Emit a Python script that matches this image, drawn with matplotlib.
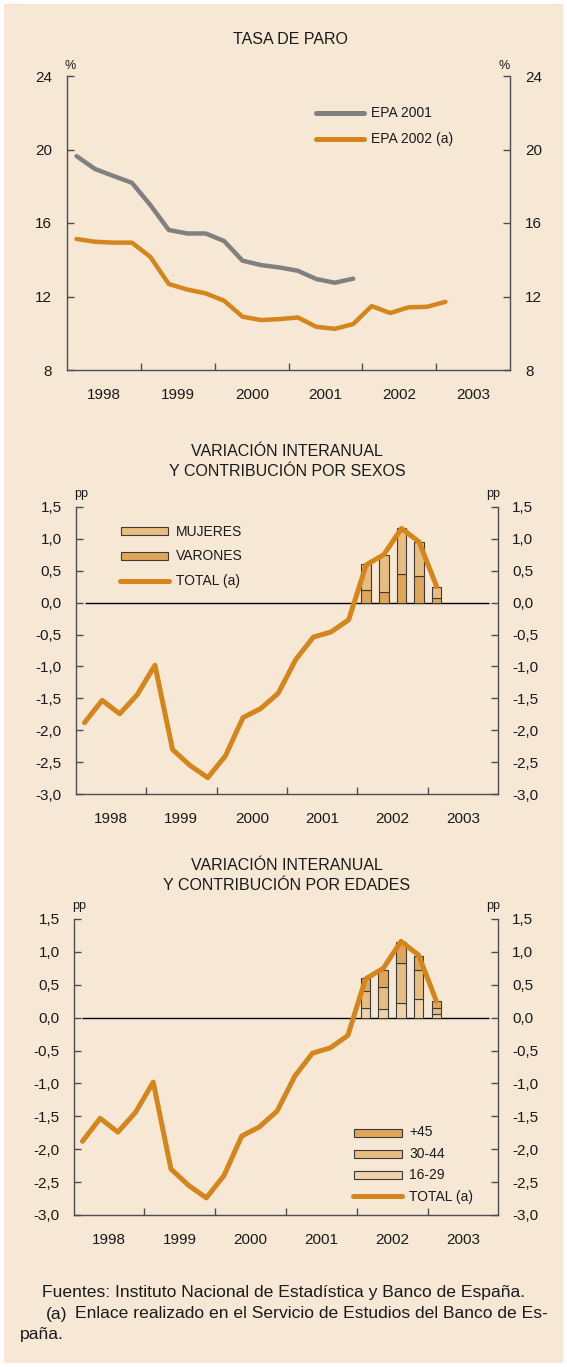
import matplotlib
matplotlib.use('Agg')
import matplotlib.pyplot as plt
from matplotlib.patches import Rectangle
from matplotlib.lines import Line2D
from matplotlib.ticker import FixedLocator, NullFormatter, FuncFormatter

plt.rcParams['font.family'] = ['Liberation Sans', 'DejaVu Sans']

# trimestres 1998T1 .. 2003T1
trimestres = ['%dT%d' % (a, t) for a in range(1998, 2004) for t in range(1, 5)][:21]

# tasa de paro (%)
epa_2001 = [19.64, 18.94, 18.56, 18.19, 16.98, 15.62, 15.43, 15.43,
            15.02, 13.95, 13.71, 13.58, 13.40, 12.95, 12.75, 12.97]
epa_2002 = [15.13, 14.98, 14.93, 14.93, 14.16, 12.68, 12.38, 12.17,
            11.77, 10.90, 10.72, 10.77, 10.86, 10.35, 10.24, 10.50,
            11.48, 11.10, 11.41, 11.44, 11.71]

# variacion interanual (pp)
total = [-1.88, -1.53, -1.74, -1.44, -0.98, -2.30, -2.55, -2.74,
         -2.40, -1.80, -1.66, -1.42, -0.89, -0.54, -0.46, -0.27,
         0.59, 0.75, 1.16, 0.95, 0.25]

# contribuciones 2002T1 .. 2003T1
trim_barras = ['2002T1', '2002T2', '2002T3', '2002T4', '2003T1']
varones = [0.19, 0.17, 0.45, 0.42, 0.07]
mujeres = [0.41, 0.57, 0.71, 0.53, 0.17]
edad_16_29 = [0.15, 0.13, 0.22, 0.28, 0.05]
edad_30_44 = [0.26, 0.34, 0.61, 0.44, 0.09]
edad_45 = [0.19, 0.26, 0.32, 0.22, 0.11]

anos = [1998, 1999, 2000, 2001, 2002, 2003]

FONDO = '#F6E8D5'
NARANJA = '#D4861C'
GRIS = '#808080'
C_MUJ = '#E9BD82'
C_VAR = '#DFA65A'
C_1629 = '#F0D3AB'
C_3044 = '#E9BD82'
C_45 = '#DFA65A'
EJE = '#4d4d4d'
TXT = '#1a1a1a'

W, H = 567, 1367
F_TICK = 11
F_TIT = 11.5
F_LEY = 10
F_NOTA = 12.6


def pos_x(t):
    # centro del trimestre en años
    a, q = t.split('T')
    return int(a) + (int(q) - 0.5) / 4


def caja(l, t, r, b):
    return [l / W, 1 - b / H, (r - l) / W, (b - t) / H]


def fx(x):
    return x / W


def fy(y):
    return 1 - y / H


fig = plt.figure(figsize=(W / 100, H / 100), dpi=100)
fig.patch.set_facecolor('white')
fig.add_artist(Rectangle((fx(4), fy(1363)), (W - 8) / W, 1359 / H,
                         transform=fig.transFigure, facecolor=FONDO,
                         edgecolor='none', zorder=-10))


def preparar(ax, ymin, ymax, yticks, fmt, pad):
    ax.set_facecolor('none')
    ax.set_xlim(1998, 2004)
    ax.set_ylim(ymin, ymax)
    for s in ['left', 'right', 'bottom']:
        ax.spines[s].set_color(EJE)
        ax.spines[s].set_linewidth(1.0)
    ax.spines['top'].set_visible(False)
    ax.xaxis.set_major_locator(FixedLocator([1999, 2000, 2001, 2002, 2003]))
    ax.xaxis.set_major_formatter(NullFormatter())
    ax.xaxis.set_minor_locator(FixedLocator([a + 0.5 for a in anos]))
    ax.xaxis.set_minor_formatter(FuncFormatter(lambda v, p: '%d' % int(v)))
    ax.tick_params(axis='x', which='major', direction='in', length=5,
                   color=EJE, width=1.0)
    ax.tick_params(axis='x', which='minor', length=0, pad=13,
                   labelsize=F_TICK, labelcolor=TXT)
    ax.set_yticks(yticks)
    ax.yaxis.set_major_formatter(FuncFormatter(fmt))
    ax.tick_params(axis='y', direction='in', length=5, color=EJE, width=1.0,
                   left=True, right=True, labelleft=True, labelright=True,
                   labelsize=F_TICK, labelcolor=TXT, pad=pad)
    return ax


def coma(v, p):
    return ('%.1f' % v).replace('.', ',')


# ---------- panel 1: tasa de paro ----------
ax1 = fig.add_axes(caja(67.3, 76, 510, 370))
preparar(ax1, 8, 24, [8, 12, 16, 20, 24], lambda v, p: '%d' % v, 6)
x01 = [pos_x(t) for t in trimestres[:len(epa_2001)]]
x02 = [pos_x(t) for t in trimestres[:len(epa_2002)]]
ax1.plot(x01, epa_2001, color=GRIS, lw=3.2, solid_joinstyle='round', solid_capstyle='round')
ax1.plot(x02, epa_2002, color=NARANJA, lw=3.2, solid_joinstyle='round', solid_capstyle='round')

# ---------- panel 2: por sexos ----------
ax2 = fig.add_axes(caja(75.7, 506.7, 498.3, 794.3))
preparar(ax2, -3, 1.5, [-3, -2.5, -2, -1.5, -1, -0.5, 0, 0.5, 1, 1.5], coma, 9)

# ---------- panel 3: por edades ----------
ax3 = fig.add_axes(caja(73.6, 919, 498.3, 1215))
preparar(ax3, -3, 1.5, [-3, -2.5, -2, -1.5, -1, -0.5, 0, 0.5, 1, 1.5], coma, 9)

xb = [pos_x(t) for t in trim_barras]
xt = [pos_x(t) for t in trimestres]
ancho = 0.135
borde = dict(edgecolor='#3a3a3a', linewidth=0.8)

ax2.bar(xb, varones, width=ancho, color=C_VAR, **borde, zorder=2)
ax2.bar(xb, mujeres, width=ancho, bottom=varones, color=C_MUJ, **borde, zorder=2)

base2 = [a + b for a, b in zip(edad_16_29, edad_30_44)]
ax3.bar(xb, edad_16_29, width=ancho, color=C_1629, **borde, zorder=2)
ax3.bar(xb, edad_30_44, width=ancho, bottom=edad_16_29, color=C_3044, **borde, zorder=2)
ax3.bar(xb, edad_45, width=ancho, bottom=base2, color=C_45, **borde, zorder=2)

for ax in (ax2, ax3):
    ax.hlines(0, 1998.125, 2003.875, color='black', lw=1.0, zorder=1)
    ax.plot(xt, total, color=NARANJA, lw=3.6, solid_joinstyle='round',
            solid_capstyle='round', zorder=3)

# etiquetas izquierdas algo más separadas del eje
for ax, pl in ((ax1, 11), (ax2, 10), (ax3, 10)):
    for t in ax.yaxis.get_major_ticks():
        t.set_pad(pl)


# ---------- textos ----------
def texto(x, y, s, **kw):
    kw.setdefault('fontsize', F_TIT)
    kw.setdefault('color', TXT)
    kw.setdefault('va', 'center')
    fig.text(fx(x), fy(y), s, **kw)


texto(290, 40, 'TASA DE PARO', ha='center')
texto(287, 452, 'VARIACIÓN INTERANUAL', ha='center')
texto(287, 471, 'Y CONTRIBUCIÓN POR SEXOS', ha='center')
texto(287, 866, 'VARIACIÓN INTERANUAL', ha='center')
texto(287, 885, 'Y CONTRIBUCIÓN POR EDADES', ha='center')

texto(70, 66, '%', ha='center', fontsize=9)
texto(504, 66, '%', ha='center', fontsize=9)
texto(81, 494, 'pp', ha='center', fontsize=9)
texto(493, 494, 'pp', ha='center', fontsize=9)
texto(79, 906, 'pp', ha='center', fontsize=9)
texto(493, 906, 'pp', ha='center', fontsize=9)


# leyendas
def ley_linea(x0, x1, y, color):
    fig.add_artist(Line2D([fx(x0), fx(x1)], [fy(y), fy(y)], color=color, lw=3.6,
                          solid_capstyle='round', transform=fig.transFigure))


def ley_caja(x0, x1, y, color):
    fig.add_artist(Rectangle((fx(x0), fy(y + 4)), (x1 - x0) / W, 8 / H,
                             transform=fig.transFigure, facecolor=color,
                             edgecolor='#3a3a3a', linewidth=0.8))


ley_linea(316, 364, 113, GRIS)
ley_linea(316, 364, 139, NARANJA)
texto(371, 113, 'EPA 2001', fontsize=F_LEY)
texto(371, 139, 'EPA 2002 (a)', fontsize=F_LEY)

ley_caja(121, 168, 531.5, C_MUJ)
ley_caja(121, 168, 556.5, C_VAR)
ley_linea(120, 169, 581, NARANJA)
texto(176, 531.5, 'MUJERES', fontsize=F_LEY)
texto(176, 556.5, 'VARONES', fontsize=F_LEY)
texto(176, 581.5, 'TOTAL (a)', fontsize=F_LEY)

ley_caja(354, 401.5, 1132.5, C_45)
ley_caja(354, 401.5, 1154, C_3044)
ley_caja(354, 401.5, 1175, C_1629)
ley_linea(353, 402, 1196, NARANJA)
texto(409, 1132.5, '+45', fontsize=F_LEY)
texto(409, 1154, '30-44', fontsize=F_LEY)
texto(409, 1175, '16-29', fontsize=F_LEY)
texto(409, 1196.5, 'TOTAL (a)', fontsize=F_LEY)

# notas
texto(42, 1293, 'Fuentes: Instituto Nacional de Estadística y Banco de España.', fontsize=F_NOTA)
texto(46, 1314, '(a)', fontsize=F_NOTA)
texto(75, 1314, 'Enlace realizado en el Servicio de Estudios del Banco de Es-', fontsize=F_NOTA)
texto(20, 1335, 'paña.', fontsize=F_NOTA)

fig.savefig('out.png', dpi=100, facecolor=fig.get_facecolor())
